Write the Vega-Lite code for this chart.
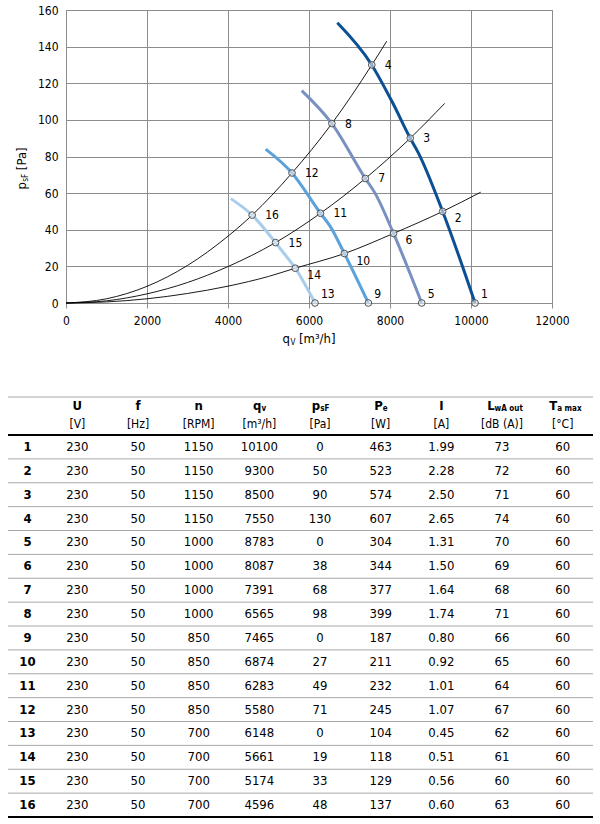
{
  "$schema": "https://vega.github.io/schema/vega-lite/v6.json",
  "padding": {"left": 7, "top": 4, "right": 0, "bottom": 0},
  "spacing": 49,
  "config": {
    "font": "DejaVu Sans Condensed, Roboto Condensed, Liberation Sans, sans-serif",
    "view": {"stroke": null},
    "text": {"color": "black"}
  },
  "datasets": {
    "tbl": [
      {"id": 1, "U": 230, "f": 50, "n": 1150, "q": 10100, "p": 0, "Pe": 463, "I": 1.99, "LwA": 73, "Ta": 60},
      {"id": 2, "U": 230, "f": 50, "n": 1150, "q": 9300, "p": 50, "Pe": 523, "I": 2.28, "LwA": 72, "Ta": 60},
      {"id": 3, "U": 230, "f": 50, "n": 1150, "q": 8500, "p": 90, "Pe": 574, "I": 2.50, "LwA": 71, "Ta": 60},
      {"id": 4, "U": 230, "f": 50, "n": 1150, "q": 7550, "p": 130, "Pe": 607, "I": 2.65, "LwA": 74, "Ta": 60},
      {"id": 5, "U": 230, "f": 50, "n": 1000, "q": 8783, "p": 0, "Pe": 304, "I": 1.31, "LwA": 70, "Ta": 60},
      {"id": 6, "U": 230, "f": 50, "n": 1000, "q": 8087, "p": 38, "Pe": 344, "I": 1.50, "LwA": 69, "Ta": 60},
      {"id": 7, "U": 230, "f": 50, "n": 1000, "q": 7391, "p": 68, "Pe": 377, "I": 1.64, "LwA": 68, "Ta": 60},
      {"id": 8, "U": 230, "f": 50, "n": 1000, "q": 6565, "p": 98, "Pe": 399, "I": 1.74, "LwA": 71, "Ta": 60},
      {"id": 9, "U": 230, "f": 50, "n": 850, "q": 7465, "p": 0, "Pe": 187, "I": 0.80, "LwA": 66, "Ta": 60},
      {"id": 10, "U": 230, "f": 50, "n": 850, "q": 6874, "p": 27, "Pe": 211, "I": 0.92, "LwA": 65, "Ta": 60},
      {"id": 11, "U": 230, "f": 50, "n": 850, "q": 6283, "p": 49, "Pe": 232, "I": 1.01, "LwA": 64, "Ta": 60},
      {"id": 12, "U": 230, "f": 50, "n": 850, "q": 5580, "p": 71, "Pe": 245, "I": 1.07, "LwA": 67, "Ta": 60},
      {"id": 13, "U": 230, "f": 50, "n": 700, "q": 6148, "p": 0, "Pe": 104, "I": 0.45, "LwA": 62, "Ta": 60},
      {"id": 14, "U": 230, "f": 50, "n": 700, "q": 5661, "p": 19, "Pe": 118, "I": 0.51, "LwA": 61, "Ta": 60},
      {"id": 15, "U": 230, "f": 50, "n": 700, "q": 5174, "p": 33, "Pe": 129, "I": 0.56, "LwA": 60, "Ta": 60},
      {"id": 16, "U": 230, "f": 50, "n": 700, "q": 4596, "p": 48, "Pe": 137, "I": 0.60, "LwA": 63, "Ta": 60}
    ],
    "cols": [
      {"key": "U", "col": 1, "sym": "U", "sub": "", "unit": "[V]"},
      {"key": "f", "col": 2, "sym": "f", "sub": "", "unit": "[Hz]"},
      {"key": "n", "col": 3, "sym": "n", "sub": "", "unit": "[RPM]"},
      {"key": "q", "col": 4, "sym": "q", "sub": "v", "unit": "[m³/h]"},
      {"key": "p", "col": 5, "sym": "p", "sub": "sF", "unit": "[Pa]"},
      {"key": "Pe", "col": 6, "sym": "P", "sub": "e", "unit": "[W]"},
      {"key": "I", "col": 7, "sym": "I", "sub": "", "unit": "[A]"},
      {"key": "LwA", "col": 8, "sym": "L", "sub": "wA out", "unit": "[dB (A)]"},
      {"key": "Ta", "col": 9, "sym": "T", "sub": "a max", "unit": "[°C]"}
    ],
    "fan": [
      {"n": 1150, "q": 6700, "p": 153}, {"n": 1150, "q": 7550, "p": 130}, {"n": 1150, "q": 8050, "p": 110},
      {"n": 1150, "q": 8500, "p": 90}, {"n": 1150, "q": 8700, "p": 82}, {"n": 1150, "q": 9300, "p": 50},
      {"n": 1150, "q": 10100, "p": 0},
      {"n": 1000, "q": 5820, "p": 116}, {"n": 1000, "q": 6565, "p": 98}, {"n": 1000, "q": 7391, "p": 68},
      {"n": 1000, "q": 7630, "p": 60}, {"n": 1000, "q": 8087, "p": 38}, {"n": 1000, "q": 8783, "p": 0},
      {"n": 850, "q": 4930, "p": 84}, {"n": 850, "q": 5580, "p": 71}, {"n": 850, "q": 6283, "p": 49},
      {"n": 850, "q": 6520, "p": 42}, {"n": 850, "q": 6874, "p": 27}, {"n": 850, "q": 7465, "p": 0},
      {"n": 700, "q": 4070, "p": 57}, {"n": 700, "q": 4596, "p": 48}, {"n": 700, "q": 5174, "p": 33},
      {"n": 700, "q": 5350, "p": 28}, {"n": 700, "q": 5661, "p": 19}, {"n": 700, "q": 6148, "p": 0}
    ],
    "sys": [
      {"curve": "top", "q": 0, "p": 0}, {"curve": "top", "q": 1000, "p": 2.3}, {"curve": "top", "q": 2000, "p": 9.1},
      {"curve": "top", "q": 3000, "p": 20.5}, {"curve": "top", "q": 4000, "p": 36.5}, {"curve": "top", "q": 4596, "p": 48},
      {"curve": "top", "q": 5580, "p": 71}, {"curve": "top", "q": 6565, "p": 98}, {"curve": "top", "q": 7550, "p": 130},
      {"curve": "top", "q": 7920, "p": 143},
      {"curve": "mid", "q": 0, "p": 0}, {"curve": "mid", "q": 1000, "p": 1.2}, {"curve": "mid", "q": 2000, "p": 5},
      {"curve": "mid", "q": 3000, "p": 11.2}, {"curve": "mid", "q": 4000, "p": 19.9}, {"curve": "mid", "q": 5174, "p": 33},
      {"curve": "mid", "q": 6283, "p": 49}, {"curve": "mid", "q": 7391, "p": 68}, {"curve": "mid", "q": 8500, "p": 90},
      {"curve": "mid", "q": 9350, "p": 109},
      {"curve": "low", "q": 0, "p": 0}, {"curve": "low", "q": 1000, "p": 0.6}, {"curve": "low", "q": 2000, "p": 2.3},
      {"curve": "low", "q": 3000, "p": 5.2}, {"curve": "low", "q": 4000, "p": 9.2}, {"curve": "low", "q": 5000, "p": 14.5},
      {"curve": "low", "q": 5661, "p": 19}, {"curve": "low", "q": 6874, "p": 27}, {"curve": "low", "q": 8087, "p": 38},
      {"curve": "low", "q": 9300, "p": 50}, {"curve": "low", "q": 10240, "p": 60.5}
    ]
  },
  "vconcat": [
    {
      "width": 486,
      "height": 293,
      "resolve": {"axis": {"x": "independent", "y": "independent"}},
      "layer": [
        {
          "data": {"name": "sys"},
          "mark": {"type": "line", "color": "black", "strokeWidth": 0.9, "interpolate": "monotone"},
          "encoding": {
            "x": {
              "field": "q", "type": "quantitative",
              "scale": {"domain": [0, 12000], "nice": false},
              "axis": {
                "orient": "bottom", "values": [0, 2000, 4000, 6000, 8000, 10000, 12000], "format": "d", "title": null,
                "grid": true, "gridColor": "#8c8c8c", "gridOpacity": 1, "domainColor": "#8c8c8c",
                "tickColor": "#8c8c8c", "tickSize": 5, "labelFontSize": 12, "labelColor": "black",
                "labelPadding": 7, "labelFlush": false
              }
            },
            "y": {
              "field": "p", "type": "quantitative",
              "scale": {"domain": [0, 160], "nice": false},
              "axis": {
                "orient": "left", "values": [0, 20, 40, 60, 80, 100, 120, 140, 160], "title": null,
                "grid": true, "gridColor": "#8c8c8c", "gridOpacity": 1, "domainColor": "#8c8c8c",
                "ticks": false, "labelFontSize": 12, "labelColor": "black", "labelPadding": 8,
                "minExtent": 58
              }
            },
            "detail": {"field": "curve"}
          }
        },
        {
          "data": {"name": "fan"},
          "mark": {"type": "line", "strokeWidth": 3, "interpolate": "monotone"},
          "encoding": {
            "x": {"field": "q", "type": "quantitative", "scale": {"domain": [0, 12000], "nice": false},
                  "axis": {"orient": "top", "labels": false, "ticks": false, "grid": false, "domainColor": "#8c8c8c", "title": null, "maxExtent": 0}},
            "y": {"field": "p", "type": "quantitative", "scale": {"domain": [0, 160], "nice": false},
                  "axis": {"orient": "right", "labels": false, "ticks": false, "grid": false, "domainColor": "#8c8c8c", "title": null, "maxExtent": 0}},
            "color": {
              "field": "n", "type": "nominal", "legend": null,
              "scale": {"domain": [1150, 1000, 850, 700], "range": ["#0b4f94", "#7890c2", "#5aa2dc", "#a9cdec"]}
            }
          }
        },
        {
          "data": {"name": "tbl"},
          "mark": {"type": "point", "shape": "circle", "size": 45, "filled": true, "fill": "#e6edf5",
                   "fillOpacity": 0.6, "stroke": "#555555", "strokeWidth": 1, "opacity": 1},
          "encoding": {
            "x": {"field": "q", "type": "quantitative", "scale": {"domain": [0, 12000], "nice": false}, "axis": null},
            "y": {"field": "p", "type": "quantitative", "scale": {"domain": [0, 160], "nice": false}, "axis": null}
          }
        },
        {
          "data": {"name": "tbl"},
          "transform": [{"filter": "datum.p > 0 && datum.id % 4 != 2"}],
          "mark": {"type": "text", "align": "left", "dx": 13, "fontSize": 12},
          "encoding": {
            "x": {"field": "q", "type": "quantitative", "scale": {"domain": [0, 12000], "nice": false}, "axis": null},
            "y": {"field": "p", "type": "quantitative", "scale": {"domain": [0, 160], "nice": false}, "axis": null},
            "text": {"field": "id"}
          }
        },
        {
          "data": {"name": "tbl"},
          "transform": [{"filter": "datum.id % 4 == 2"}],
          "mark": {"type": "text", "align": "left", "dx": 12, "dy": 7, "fontSize": 12},
          "encoding": {
            "x": {"field": "q", "type": "quantitative", "scale": {"domain": [0, 12000], "nice": false}, "axis": null},
            "y": {"field": "p", "type": "quantitative", "scale": {"domain": [0, 160], "nice": false}, "axis": null},
            "text": {"field": "id"}
          }
        },
        {
          "data": {"name": "tbl"},
          "transform": [{"filter": "datum.p == 0"}],
          "mark": {"type": "text", "align": "left", "dx": 6, "dy": -9, "fontSize": 12},
          "encoding": {
            "x": {"field": "q", "type": "quantitative", "scale": {"domain": [0, 12000], "nice": false}, "axis": null},
            "y": {"field": "p", "type": "quantitative", "scale": {"domain": [0, 160], "nice": false}, "axis": null},
            "text": {"field": "id"}
          }
        },
        {
          "data": {"values": [{"t": "q"}]},
          "mark": {"type": "text", "align": "right", "fontSize": 13},
          "encoding": {
            "x": {"datum": 5530, "scale": {"domain": [0, 12000], "nice": false}, "axis": null},
            "y": {"datum": -19.5, "scale": {"domain": [0, 160], "nice": false}, "axis": null},
            "text": {"field": "t"}
          }
        },
        {
          "data": {"values": [{"t": "V"}]},
          "mark": {"type": "text", "align": "left", "dx": 0.5, "dy": 4, "fontSize": 8},
          "encoding": {
            "x": {"datum": 5530, "scale": {"domain": [0, 12000], "nice": false}, "axis": null},
            "y": {"datum": -19.5, "scale": {"domain": [0, 160], "nice": false}, "axis": null},
            "text": {"field": "t"}
          }
        },
        {
          "data": {"values": [{"t": "[m³/h]"}]},
          "mark": {"type": "text", "align": "left", "dx": 9, "fontSize": 13},
          "encoding": {
            "x": {"datum": 5530, "scale": {"domain": [0, 12000], "nice": false}, "axis": null},
            "y": {"datum": -19.5, "scale": {"domain": [0, 160], "nice": false}, "axis": null},
            "text": {"field": "t"}
          }
        },
        {
          "data": {"values": [{"t": "p"}]},
          "mark": {"type": "text", "align": "right", "angle": 270, "fontSize": 13},
          "encoding": {
            "x": {"datum": -1086, "scale": {"domain": [0, 12000], "nice": false}, "axis": null},
            "y": {"datum": 66, "scale": {"domain": [0, 160], "nice": false}, "axis": null},
            "text": {"field": "t"}
          }
        },
        {
          "data": {"values": [{"t": "sF"}]},
          "mark": {"type": "text", "align": "left", "angle": 270, "dx": 0.5, "dy": 4, "fontSize": 8},
          "encoding": {
            "x": {"datum": -1086, "scale": {"domain": [0, 12000], "nice": false}, "axis": null},
            "y": {"datum": 66, "scale": {"domain": [0, 160], "nice": false}, "axis": null},
            "text": {"field": "t"}
          }
        },
        {
          "data": {"values": [{"t": "[Pa]"}]},
          "mark": {"type": "text", "align": "left", "angle": 270, "dx": 12, "fontSize": 13},
          "encoding": {
            "x": {"datum": -1086, "scale": {"domain": [0, 12000], "nice": false}, "axis": null},
            "y": {"datum": 66, "scale": {"domain": [0, 160], "nice": false}, "axis": null},
            "text": {"field": "t"}
          }
        }
      ]
    },
    {
      "width": 527,
      "height": 420,
      "layer": [
        {
          "data": {"name": "tbl"},
          "transform": [
            {"fold": ["U", "f", "n", "q", "p", "Pe", "I", "LwA", "Ta"], "as": ["key", "val"]},
            {"lookup": "key", "from": {"data": {"name": "cols"}, "key": "key", "fields": ["col"]}},
            {"filter": "datum.key != 'I'"}
          ],
          "mark": {"type": "text", "fontSize": 13},
          "encoding": {
            "x": {
              "field": "col", "type": "quantitative",
              "scale": {"domain": [-0.5, 0.5, 9.5], "range": [-58, -19, 527], "nice": false, "zero": false},
              "axis": {"orient": "top", "values": [0.5, 1.5, 2.5, 3.5, 4.5, 5.5, 6.5, 7.5, 8.5], "grid": true,
                       "gridColor": "#a8a8a8", "gridOpacity": 1, "labels": false, "ticks": false, "domain": false,
                       "title": null, "maxExtent": 0}
            },
            "y": {
              "field": "id", "type": "quantitative",
              "scale": {"domain": [-0.5, 0.5, 16.5], "range": [0, 38, 420], "nice": false, "zero": false},
              "axis": null
            },
            "text": {"field": "val", "type": "quantitative", "format": "d"}
          }
        },
        {
          "data": {"name": "tbl"},
          "transform": [{"filter": "datum.id < 16"}],
          "mark": {"type": "rule", "color": "#a8a8a8", "strokeWidth": 1, "yOffset": 11.94},
          "encoding": {
            "x": {"datum": -0.5, "scale": {"domain": [-0.5, 0.5, 9.5], "range": [-58, -19, 527], "nice": false, "zero": false}, "axis": null},
            "x2": {"datum": 9.5},
            "y": {"field": "id", "type": "quantitative", "scale": {"domain": [-0.5, 0.5, 16.5], "range": [0, 38, 420], "nice": false, "zero": false}, "axis": null}
          }
        },
        {
          "data": {"values": [{}]},
          "mark": {"type": "rule", "color": "#a8a8a8", "strokeWidth": 1},
          "encoding": {
            "x": {"datum": -0.5, "scale": {"domain": [-0.5, 0.5, 9.5], "range": [-58, -19, 527], "nice": false, "zero": false}, "axis": null},
            "x2": {"datum": 9.5},
            "y": {"datum": -0.5, "scale": {"domain": [-0.5, 0.5, 16.5], "range": [0, 38, 420], "nice": false, "zero": false}, "axis": null}
          }
        },
        {
          "data": {"values": [{}]},
          "mark": {"type": "rule", "color": "black", "strokeWidth": 2},
          "encoding": {
            "x": {"datum": -0.5, "scale": {"domain": [-0.5, 0.5, 9.5], "range": [-58, -19, 527], "nice": false, "zero": false}, "axis": null},
            "x2": {"datum": 9.5},
            "y": {"datum": 0.5, "scale": {"domain": [-0.5, 0.5, 16.5], "range": [0, 38, 420], "nice": false, "zero": false}, "axis": null}
          }
        },
        {
          "data": {"values": [{}]},
          "mark": {"type": "rule", "color": "black", "strokeWidth": 2},
          "encoding": {
            "x": {"datum": -0.5, "scale": {"domain": [-0.5, 0.5, 9.5], "range": [-58, -19, 527], "nice": false, "zero": false}, "axis": null},
            "x2": {"datum": 9.5},
            "y": {"datum": 16.5, "scale": {"domain": [-0.5, 0.5, 16.5], "range": [0, 38, 420], "nice": false, "zero": false}, "axis": null}
          }
        },
        {
          "data": {"name": "tbl"},
          "mark": {"type": "text", "fontSize": 13},
          "encoding": {
            "x": {"datum": 7, "scale": {"domain": [-0.5, 0.5, 9.5], "range": [-58, -19, 527], "nice": false, "zero": false}, "axis": null},
            "y": {"field": "id", "type": "quantitative", "scale": {"domain": [-0.5, 0.5, 16.5], "range": [0, 38, 420], "nice": false, "zero": false}, "axis": null},
            "text": {"field": "I", "type": "quantitative", "format": ".2f"}
          }
        },
        {
          "data": {"name": "tbl"},
          "mark": {"type": "text", "fontSize": 13, "fontWeight": "bold"},
          "encoding": {
            "x": {"datum": 0, "scale": {"domain": [-0.5, 0.5, 9.5], "range": [-58, -19, 527], "nice": false, "zero": false}, "axis": null},
            "y": {"field": "id", "type": "quantitative", "scale": {"domain": [-0.5, 0.5, 16.5], "range": [0, 38, 420], "nice": false, "zero": false}, "axis": null},
            "text": {"field": "id"}
          }
        },
        {
          "data": {"name": "cols"},
          "transform": [{"filter": "datum.sub == ''"}],
          "mark": {"type": "text", "fontSize": 13, "fontWeight": "bold", "dy": -10},
          "encoding": {
            "x": {"field": "col", "type": "quantitative", "scale": {"domain": [-0.5, 0.5, 9.5], "range": [-58, -19, 527], "nice": false, "zero": false}, "axis": null},
            "y": {"datum": 0, "scale": {"domain": [-0.5, 0.5, 16.5], "range": [0, 38, 420], "nice": false, "zero": false}, "axis": null},
            "text": {"field": "sym"}
          }
        },
        {
          "data": {"name": "cols"},
          "transform": [{"filter": "datum.sub != ''"}],
          "mark": {"type": "text", "fontSize": 13, "fontWeight": "bold", "align": "right", "dy": -10,
                   "dx": {"expr": "4 - 1.9 * length(datum.sub)"}},
          "encoding": {
            "x": {"field": "col", "type": "quantitative", "scale": {"domain": [-0.5, 0.5, 9.5], "range": [-58, -19, 527], "nice": false, "zero": false}, "axis": null},
            "y": {"datum": 0, "scale": {"domain": [-0.5, 0.5, 16.5], "range": [0, 38, 420], "nice": false, "zero": false}, "axis": null},
            "text": {"field": "sym"}
          }
        },
        {
          "data": {"name": "cols"},
          "transform": [{"filter": "datum.sub != ''"}],
          "mark": {"type": "text", "fontSize": 8, "fontWeight": "bold", "align": "left", "dy": -7,
                   "dx": {"expr": "4 - 1.9 * length(datum.sub)"}},
          "encoding": {
            "x": {"field": "col", "type": "quantitative", "scale": {"domain": [-0.5, 0.5, 9.5], "range": [-58, -19, 527], "nice": false, "zero": false}, "axis": null},
            "y": {"datum": 0, "scale": {"domain": [-0.5, 0.5, 16.5], "range": [0, 38, 420], "nice": false, "zero": false}, "axis": null},
            "text": {"field": "sub"}
          }
        },
        {
          "data": {"name": "cols"},
          "mark": {"type": "text", "fontSize": 12, "dy": 8},
          "encoding": {
            "x": {"field": "col", "type": "quantitative", "scale": {"domain": [-0.5, 0.5, 9.5], "range": [-58, -19, 527], "nice": false, "zero": false}, "axis": null},
            "y": {"datum": 0, "scale": {"domain": [-0.5, 0.5, 16.5], "range": [0, 38, 420], "nice": false, "zero": false}, "axis": null},
            "text": {"field": "unit"}
          }
        }
      ]
    }
  ]
}
